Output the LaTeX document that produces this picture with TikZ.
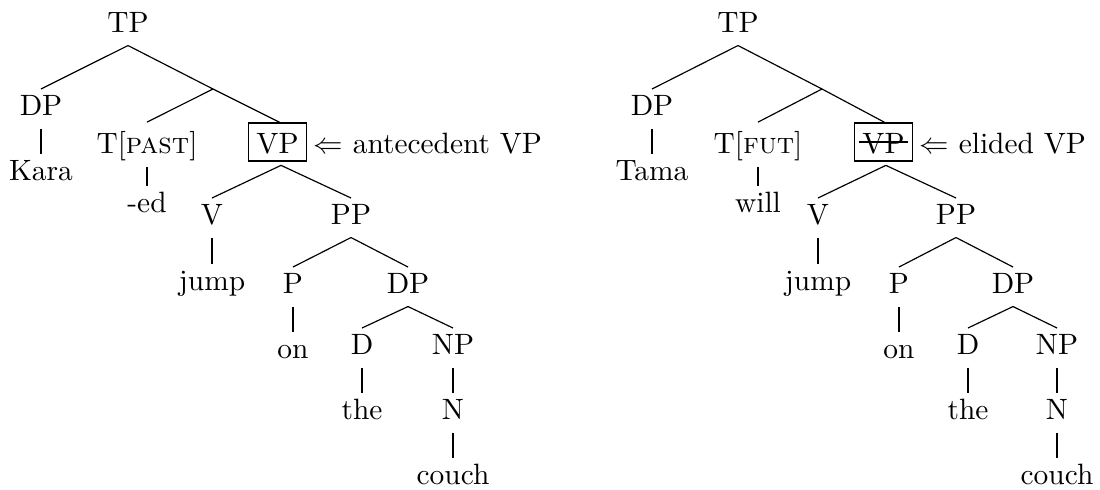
\documentclass[tikz,border=0pt]{standalone}
\begin{document}
\begin{tikzpicture}[x=0.34pt,y=-0.34pt,
  lab/.style={anchor=base,inner sep=2pt,outer sep=0pt,text height=6.84pt,text depth=2.6pt},
  tall/.style={lab,text height=8.5pt},
  boxed/.style={anchor=base,draw,inner sep=2.7pt,outer sep=0pt,text height=7.5pt,text depth=0pt},
  note/.style={anchor=base west,inner sep=0pt},
  edge/.style={line width=0.4pt}]
\useasboundingbox (0,0) rectangle (1100,489);
% ---------- left tree ----------
\node[lab] (tp1) at (128,32) {TP};
\coordinate (tb1) at (213,89);
\node[lab] (dp1) at (41,115) {DP};
\node[lab] (kara) at (41,180) {Kara};
\node[tall] (t1) at (147,153) {T[\textsc{past}]};
\node[lab] (ed) at (147,212) {-ed};
\node[boxed] (vp1) at (277.5,153) {VP};
\node[note] (ant) at (313,153) {$\Leftarrow$ antecedent VP};
\node[lab] (v1) at (212,224) {V};
\node[lab] (pp1) at (351,224) {PP};
\node[lab] (jump1) at (212,290) {jump};
\node[lab] (p1) at (293,293) {P};
\node[lab] (dpb1) at (408,293) {DP};
\node[lab] (on1) at (293,358) {on};
\node[lab] (d1) at (362,354) {D};
\node[lab] (np1) at (453,354) {NP};
\node[lab] (the1) at (362,419) {the};
\node[lab] (n1) at (453,419) {N};
\node[lab] (couch1) at (453,484) {couch};
\draw[edge] (tp1.south) -- (dp1.north);
\draw[edge] (tp1.south) -- (tb1);
\draw[edge] (tb1) -- (t1.north);
\draw[edge] (tb1) -- ([xshift=1.2pt]vp1.north);
\draw[edge] (dp1.south) -- (kara.north);
\draw[edge] (t1.south) -- (ed.north);
\draw[edge] ([xshift=1.2pt,yshift=-1.5pt]vp1.south) -- (v1.north);
\draw[edge] ([xshift=1.2pt,yshift=-1.5pt]vp1.south) -- (pp1.north);
\draw[edge] (v1.south) -- (jump1.north);
\draw[edge] (pp1.south) -- (p1.north);
\draw[edge] (pp1.south) -- (dpb1.north);
\draw[edge] (p1.south) -- (on1.north);
\draw[edge] (dpb1.south) -- (d1.north);
\draw[edge] (dpb1.south) -- (np1.north);
\draw[edge] (d1.south) -- (the1.north);
\draw[edge] (np1.south) -- (n1.north);
\draw[edge] (n1.south) -- (couch1.north);
% ---------- right tree ----------
\node[lab] (tp2) at (738,32) {TP};
\coordinate (tb2) at (822,89);
\node[lab] (dp2) at (652,115) {DP};
\node[lab] (tama) at (652,180) {Tama};
\node[tall] (t2) at (758,153) {T[\textsc{fut}]};
\node[lab] (will) at (758,212) {will};
\node[boxed] (vp2) at (883.5,153) {VP};
\node[note] (eli) at (919,153) {$\Leftarrow$ elided VP};
\node[lab] (v2) at (818,224) {V};
\node[lab] (pp2) at (956,224) {PP};
\node[lab] (jump2) at (818,290) {jump};
\node[lab] (p2) at (899,293) {P};
\node[lab] (dpb2) at (1013,293) {DP};
\node[lab] (on2) at (899,358) {on};
\node[lab] (d2) at (968,354) {D};
\node[lab] (np2) at (1057,354) {NP};
\node[lab] (the2) at (968,419) {the};
\node[lab] (n2) at (1057,419) {N};
\node[lab] (couch2) at (1057,484) {couch};
\draw[edge] ([xshift=1.4pt]vp2.west) -- ([xshift=-1.4pt]vp2.east);
\draw[edge] (tp2.south) -- (dp2.north);
\draw[edge] (tp2.south) -- (tb2);
\draw[edge] (tb2) -- (t2.north);
\draw[edge] (tb2) -- ([xshift=0.8pt]vp2.north);
\draw[edge] (dp2.south) -- (tama.north);
\draw[edge] (t2.south) -- (will.north);
\draw[edge] ([xshift=0.8pt,yshift=-1.5pt]vp2.south) -- (v2.north);
\draw[edge] ([xshift=0.8pt,yshift=-1.5pt]vp2.south) -- (pp2.north);
\draw[edge] (v2.south) -- (jump2.north);
\draw[edge] (pp2.south) -- (p2.north);
\draw[edge] (pp2.south) -- (dpb2.north);
\draw[edge] (p2.south) -- (on2.north);
\draw[edge] (dpb2.south) -- (d2.north);
\draw[edge] (dpb2.south) -- (np2.north);
\draw[edge] (d2.south) -- (the2.north);
\draw[edge] (np2.south) -- (n2.north);
\draw[edge] (n2.south) -- (couch2.north);
\end{tikzpicture}
\end{document}
